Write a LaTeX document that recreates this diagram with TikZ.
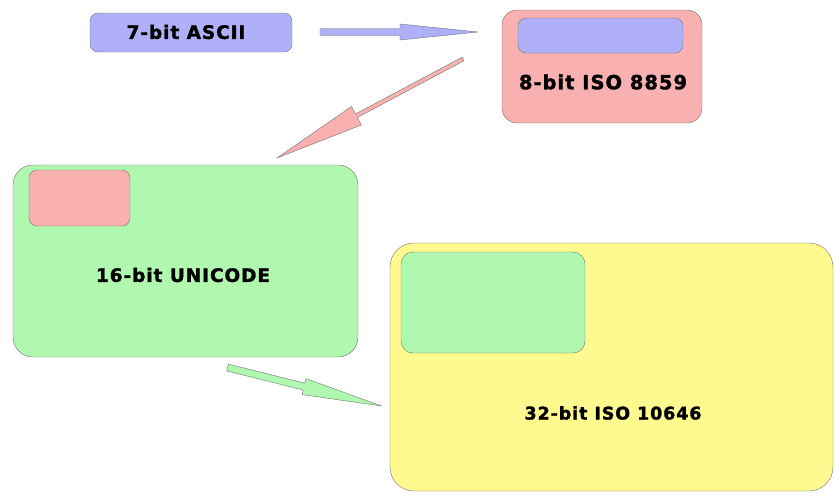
\documentclass[tikz,border=0pt]{standalone}
\usepackage{fontspec}
\usepackage{tikz}
\usetikzlibrary{calc}
\newfontfamily\lblfont[LetterSpace=5,FakeBold=1.6]{DejaVu Sans}
\definecolor{lav}{RGB}{176,176,248}
\definecolor{rosy}{RGB}{249,176,176}
\definecolor{mint}{RGB}{176,248,176}
\definecolor{lemon}{RGB}{255,250,144}
% block arrow: style, tail, tip, shaft half width, head length, head half width
\newcommand{\blockarrow}[6]{%
	\coordinate (ba-c) at ($(#3)!#5!(#2)$);
	\draw[#1] ($(#2)!#4!90:(#3)$) -- ($(ba-c)!#4!-90:(#2)$) -- ($(ba-c)!#6!-90:(#2)$) -- (#3)
		-- ($(ba-c)!#6!90:(#2)$) -- ($(ba-c)!#4!90:(#2)$) -- ($(#2)!#4!-90:(#3)$) -- cycle;
}

\begin{document}
\begin{tikzpicture}[
					x=1pt,y=-1pt,
					card/.style={draw=black!55,line width=0.4pt,inner sep=0pt},
					lbl/.style={inner sep=0pt,font=\lblfont\bfseries\fontsize{#1}{#1}\selectfont},
					barrow/.style={draw=black!55,line width=0.4pt,line join=round}
					]
					\useasboundingbox (0,0) rectangle (835,493);
					% outer cards
					\node[card,fill=lav,rounded corners=8,minimum width=202,minimum height=39] (ascii) at (191,32.5) {};
					\node[card,fill=rosy,rounded corners=15,minimum width=200,minimum height=113] (iso8859) at (602,66.5) {};
					\node[card,fill=mint,rounded corners=20,minimum width=345,minimum height=192] (unicode) at (185.5,261) {};
					\node[card,fill=lemon,rounded corners=24,minimum width=443,minimum height=248] (iso10646) at (611.5,367) {};
					% the smaller set inside each card
					\node[card,fill=lav,rounded corners=8,minimum width=165,minimum height=35] (in8859) at (600.5,35.5) {};
					\node[card,fill=rosy,rounded corners=8,minimum width=101,minimum height=56] (inunicode) at (79.5,198) {};
					\node[card,fill=mint,rounded corners=12,minimum width=184,minimum height=101] (in10646) at (493,302.5) {};
					% labels
					\node[lbl=18.5] (asciilbl) at (186,32) {7-bit ASCII};
					\node[lbl=19.5] (iso8859lbl) at (603,82) {8-bit ISO 8859};
					\node[lbl=18.5] (unicodelbl) at (183,275) {16-bit UNICODE};
					\node[lbl=17.5] (iso10646lbl) at (613,413) {32-bit ISO 10646};
					% arrows
					\coordinate (t1) at (320,32);
					\coordinate (h1) at (478,32);
					\coordinate (t2) at (463,59);
					\coordinate (h2) at (277,158);
					\coordinate (t3) at (227.5,367.5);
					\coordinate (h3) at (381.7,406);
					\blockarrow{barrow,fill=lav}{t1}{h1}{3.5pt}{78pt}{8pt}
					\blockarrow{barrow,fill=rosy}{t2}{h2}{2pt}{90pt}{10.5pt}
					\blockarrow{barrow,fill=mint}{t3}{h3}{3.5pt}{80pt}{8.2pt}
				\end{tikzpicture}
\end{document}
